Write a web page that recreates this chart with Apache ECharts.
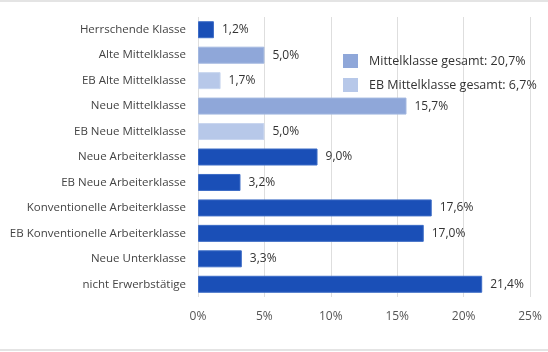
<!DOCTYPE html>
<html>
<head>
<meta charset="utf-8">
<script src="https://cdn.jsdelivr.net/npm/echarts@6/dist/echarts.min.js"></script>
<style>
html, body { margin: 0; padding: 0; background: #ffffff; }
#chart { width: 548px; height: 352px; }
</style>
</head>
<body>
<div id="chart"></div>
<script>
// Kategorien von oben nach unten
const categories = [
  'Herrschende Klasse',
  'Alte Mittelklasse',
  'EB Alte Mittelklasse',
  'Neue Mittelklasse',
  'EB Neue Mittelklasse',
  'Neue Arbeiterklasse',
  'EB Neue Arbeiterklasse',
  'Konventionelle Arbeiterklasse',
  'EB Konventionelle Arbeiterklasse',
  'Neue Unterklasse',
  'nicht Erwerbstätige'
]
const values = [1.2, 5.0, 1.7, 15.7, 5.0, 9.0, 3.2, 17.6, 17.0, 3.3, 21.4]
// Gruppe je Kategorie: 0 = übrige, 1 = Mittelklasse, 2 = EB Mittelklasse
const groups = [0, 1, 2, 1, 2, 0, 0, 0, 0, 0, 0]
const groupNames = ['Übrige', 'Mittelklasse gesamt: 20,7%', 'EB Mittelklasse gesamt: 6,7%']
const groupColors = ['#1a4fb7', '#8fa7d9', '#b7c8e9']
const groupBorders = ['#3d6cc6', '#a3b8e0', '#c9d6ef']
const xTicks = [0, 5, 10, 15, 20, 25]

const fmt = v => v.toFixed(1).replace('.', ',') + '%'

const chart = echarts.init(document.getElementById('chart'))
const series = groupNames.map((name, g) => ({
  name: name,
  type: 'bar',
  stack: 'all',
  barWidth: 17,
  data: values.map((v, i) => groups[i] === g ? v : '-'),
  itemStyle: { color: groupColors[g], borderColor: groupBorders[g], borderWidth: 1 },
  label: {
    show: true,
    position: 'right',
    distance: 8,
    color: '#333',
    fontSize: 12,
    fontFamily: 'Open Sans',
    formatter: p => fmt(p.value)
  }
}))

chart.setOption({
  animation: false,
  textStyle: { fontFamily: 'Open Sans' },
  graphic: [
    { type: 'rect', shape: { x: 0, y: 0, width: 548, height: 2 }, style: { fill: '#e4e4e4' } },
    { type: 'rect', shape: { x: 0, y: 349, width: 548, height: 2 }, style: { fill: '#e4e4e4' } }
  ],
  grid: { left: 198, right: 18, top: 17, bottom: 55, outerBoundsMode: 'none' },
  legend: {
    data: [groupNames[1], groupNames[2]],
    orient: 'vertical',
    left: 338,
    top: 49,
    itemWidth: 15,
    itemHeight: 14,
    itemGap: 10,
    icon: 'rect',
    itemStyle: { borderWidth: 0 },
    textStyle: { color: '#333', fontSize: 12.5, fontFamily: 'Open Sans', padding: [0, 0, 0, 6] }
  },
  xAxis: {
    type: 'value',
    min: xTicks[0],
    max: xTicks[xTicks.length - 1],
    interval: 5,
    axisLine: { show: false },
    axisTick: { show: false },
    axisLabel: { color: '#555', fontSize: 12, margin: 14, formatter: v => v + '%' },
    splitLine: { show: true, lineStyle: { color: '#dedede', width: 1 } }
  },
  yAxis: {
    type: 'category',
    data: categories,
    inverse: true,
    axisLine: { show: false },
    axisTick: { show: false },
    axisLabel: { color: '#444', fontSize: 11.5, margin: 12 }
  },
  series: series
})
</script>
</body>
</html>
